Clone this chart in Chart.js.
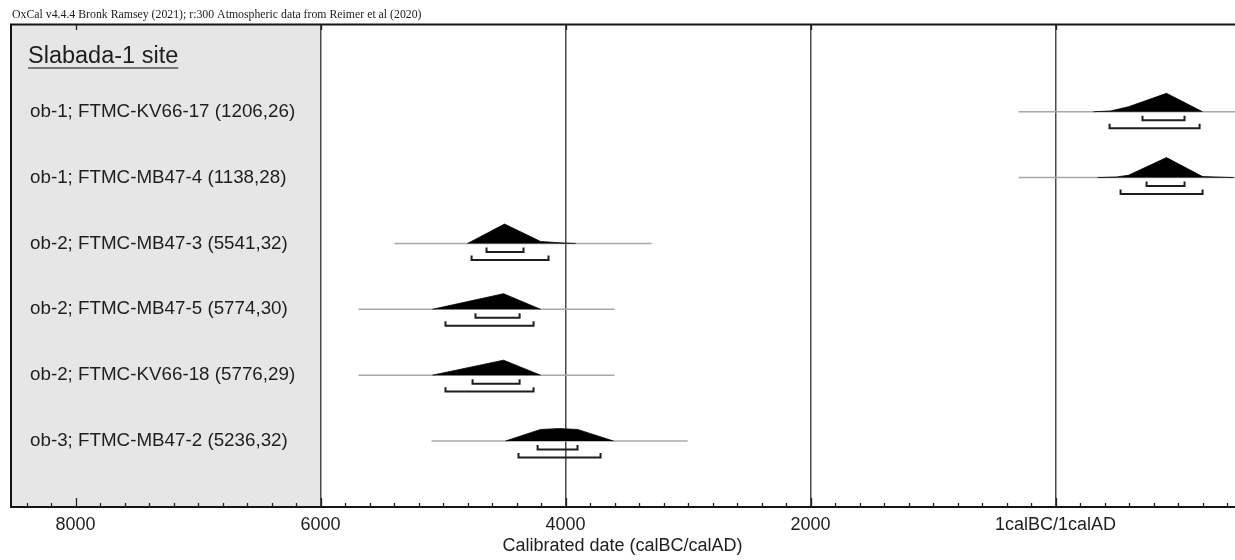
<!DOCTYPE html>
<html><head><meta charset="utf-8">
<script src="https://cdn.jsdelivr.net/npm/chart.js@4/dist/chart.umd.min.js"></script>
<style>html,body{margin:0;padding:0;background:#fff;}#wrap{width:1235px;height:560px;}</style>
</head><body><div id="wrap"><canvas id="c" width="1235" height="560"></canvas></div>
<script>
// ---------- data (years: negative = calBC, positive = calAD) ----------
const headerText = 'OxCal v4.4.4 Bronk Ramsey (2021); r:300 Atmospheric data from Reimer et al (2020)';
const siteName = 'Slabada-1 site';
const sampleLabels = [
  'ob-1; FTMC-KV66-17 (1206,26)',
  'ob-1; FTMC-MB47-4 (1138,28)',
  'ob-2; FTMC-MB47-3 (5541,32)',
  'ob-2; FTMC-MB47-5 (5774,30)',
  'ob-2; FTMC-KV66-18 (5776,29)',
  'ob-3; FTMC-MB47-2 (5236,32)'
];
// extent of the thin grey line (calculation range)
const rangeFrom = [-302, -302, -5396, -5690, -5690, -5094];
const rangeTo   = [1470, 1470, -3298, -3600, -3600, -3004];
// probability profiles (year, relative density)
const profileYears = [
  [310, 450, 596, 906, 1200],
  [343, 500, 596, 906, 1200, 1300, 1453],
  [-4800, -4498, -4204, -4050, -3918],
  [-5086, -4506, -4204],
  [-5086, -4506, -4204],
  [-4490, -4204, -4050, -3902, -3608]
];
const profileDensity = [
  [0, 0.04, 0.25, 0.92, 0],
  [0, 0.03, 0.12, 1.0, 0.05, 0.03, 0],
  [0, 0.97, 0.1, 0.03, 0],
  [0, 0.78, 0],
  [0, 0.75, 0],
  [0, 0.58, 0.62, 0.58, 0]
];
// highest posterior density ranges
const hpd68From = [710, 743, -4645, -4735, -4759, -4228];
const hpd68To   = [1053, 1053, -4343, -4375, -4375, -3902];
const hpd95From = [441, 531, -4767, -4980, -4980, -4384];
const hpd95To   = [1176, 1200, -4139, -4261, -4261, -3714];
// axis
const majorTickValues = [-8000, -6000, -4000, -2000, 0];
const majorTickLabels = ['8000', '6000', '4000', '2000', '1calBC/1calAD'];
const fullLineValues = [-6000, -4000, -2000, 0];
const minorStep = 200;
const xMin = -8535, xMax = 1465;
const panelEnd = -6000;
const axisTitle = 'Calibrated date (calBC/calAD)';

// ---------- styling constants ----------
const PEAK = 0.3035, OFF68 = 0.129, OFF95 = 0.25, TIP = 0.068;
const SANS = '"Liberation Sans", Arial, sans-serif';

function bracket(a, b, y) {
  return [{x: a, y: y - TIP}, {x: a, y: y}, {x: b, y: y}, {x: b, y: y - TIP}];
}

const datasets = [];
sampleLabels.forEach((lab, k) => {
  const row = k + 1;
  datasets.push({
    label: lab + ' range', data: [{x: rangeFrom[k], y: row}, {x: rangeTo[k], y: row}],
    borderColor: '#a8a8a8', borderWidth: 1.5, order: 3
  });
  datasets.push({
    label: lab, data: profileYears[k].map((yr, j) => ({x: yr, y: row - profileDensity[k][j] * PEAK})),
    borderColor: '#000', borderWidth: 0.8, backgroundColor: '#000', fill: {value: row}, order: 2
  });
  datasets.push({
    label: lab + ' 68.3%', data: bracket(hpd68From[k], hpd68To[k], row + OFF68),
    borderColor: '#1e1e1e', borderWidth: 2, order: 1
  });
  datasets.push({
    label: lab + ' 95.4%', data: bracket(hpd95From[k], hpd95To[k], row + OFF95),
    borderColor: '#1e1e1e', borderWidth: 2, order: 1
  });
});

const tickValues = [];
for (let v = Math.ceil(xMin / minorStep) * minorStep; v <= xMax; v += minorStep) tickValues.push(v);

const oxcalFrame = {
  id: 'oxcalFrame',
  beforeDraw(chart) {
    const {ctx, chartArea: a, scales: {x}} = chart;
    ctx.save();
    ctx.fillStyle = '#fff';
    ctx.fillRect(0, 0, chart.width, chart.height);
    const px = x.getPixelForValue(panelEnd);
    ctx.fillStyle = '#e6e6e6';
    ctx.fillRect(a.left, a.top, px - a.left, a.bottom - a.top);
    ctx.fillStyle = '#222';
    ctx.font = '11.8px "Liberation Serif", serif';
    ctx.textBaseline = 'middle';
    ctx.fillText(headerText, 12, 15);
    ctx.restore();
  },
  afterDraw(chart) {
    const {ctx, chartArea: a, scales: {x, y}} = chart;
    ctx.save();
    // labels
    ctx.fillStyle = '#1e1e1e';
    ctx.textBaseline = 'middle';
    ctx.font = '18.8px ' + SANS;
    sampleLabels.forEach((lab, k) => {
      ctx.fillText(lab, a.left + 20, y.getPixelForValue(k + 1));
    });
    ctx.font = '23.5px ' + SANS;
    const hy = a.top + 33;
    ctx.fillText(siteName, a.left + 18, hy);
    const w = ctx.measureText(siteName).width;
    ctx.strokeStyle = '#555';
    ctx.lineWidth = 1.5;
    ctx.beginPath(); ctx.moveTo(a.left + 18, hy + 11); ctx.lineTo(a.left + 18 + w, hy + 11); ctx.stroke();
    // frame
    ctx.strokeStyle = '#151515';
    ctx.lineWidth = 2;
    ctx.beginPath();
    ctx.moveTo(a.left + 1, a.bottom); ctx.lineTo(a.left + 1, a.top + 0.5); ctx.lineTo(a.right, a.top + 0.5);
    ctx.stroke();
    ctx.beginPath(); ctx.moveTo(a.left, a.bottom); ctx.lineTo(a.right, a.bottom); ctx.stroke();
    // inward ticks
    ctx.lineWidth = 1.3;
    ctx.strokeStyle = '#222';
    x.ticks.forEach(t => {
      const px = Math.round(x.getPixelForValue(t.value)) + 0.5;
      const major = majorTickValues.includes(t.value);
      ctx.beginPath();
      ctx.moveTo(px, a.bottom); ctx.lineTo(px, a.bottom - (major ? 9 : 4));
      ctx.stroke();
      if (major) {
        ctx.beginPath(); ctx.moveTo(px, a.top); ctx.lineTo(px, a.top + 6); ctx.stroke();
      }
    });
    ctx.restore();
  }
};

new Chart(document.getElementById('c'), {
  type: 'scatter',
  data: {datasets},
  options: {
    responsive: false,
    animation: false,
    devicePixelRatio: 1,
    showLine: true,
    elements: {point: {radius: 0, hoverRadius: 0}, line: {tension: 0, borderCapStyle: 'butt', borderJoinStyle: 'miter'}},
    layout: {padding: {left: 10, right: 0, top: 24, bottom: 0}},
    plugins: {legend: {display: false}, tooltip: {enabled: false}, title: {display: false}},
    scales: {
      x: {
        type: 'linear', position: 'bottom', min: xMin, max: xMax,
        afterBuildTicks: (s) => { s.ticks = tickValues.map(v => ({value: v})); },
        afterFit: (s) => { s.height = 53; },
        border: {display: false},
        grid: {
          drawTicks: false, drawOnChartArea: true, lineWidth: 1.5,
          color: (c) => (c.tick && fullLineValues.includes(c.tick.value)) ? '#4a4a4a' : 'rgba(0,0,0,0)'
        },
        ticks: {
          autoSkip: false, maxRotation: 0, minRotation: 0, padding: 7, color: '#1e1e1e',
          font: {family: SANS, size: 18},
          callback: (v) => { const i = majorTickValues.indexOf(v); return i >= 0 ? majorTickLabels[i] : ''; }
        },
        title: {display: true, text: axisTitle, color: '#1e1e1e', font: {family: SANS, size: 18}, padding: {top: 2, bottom: 3}}
      },
      y: {type: 'linear', display: false, reverse: true, min: -0.332, max: 7.002}
    }
  },
  plugins: [oxcalFrame]
});
</script></body></html>
